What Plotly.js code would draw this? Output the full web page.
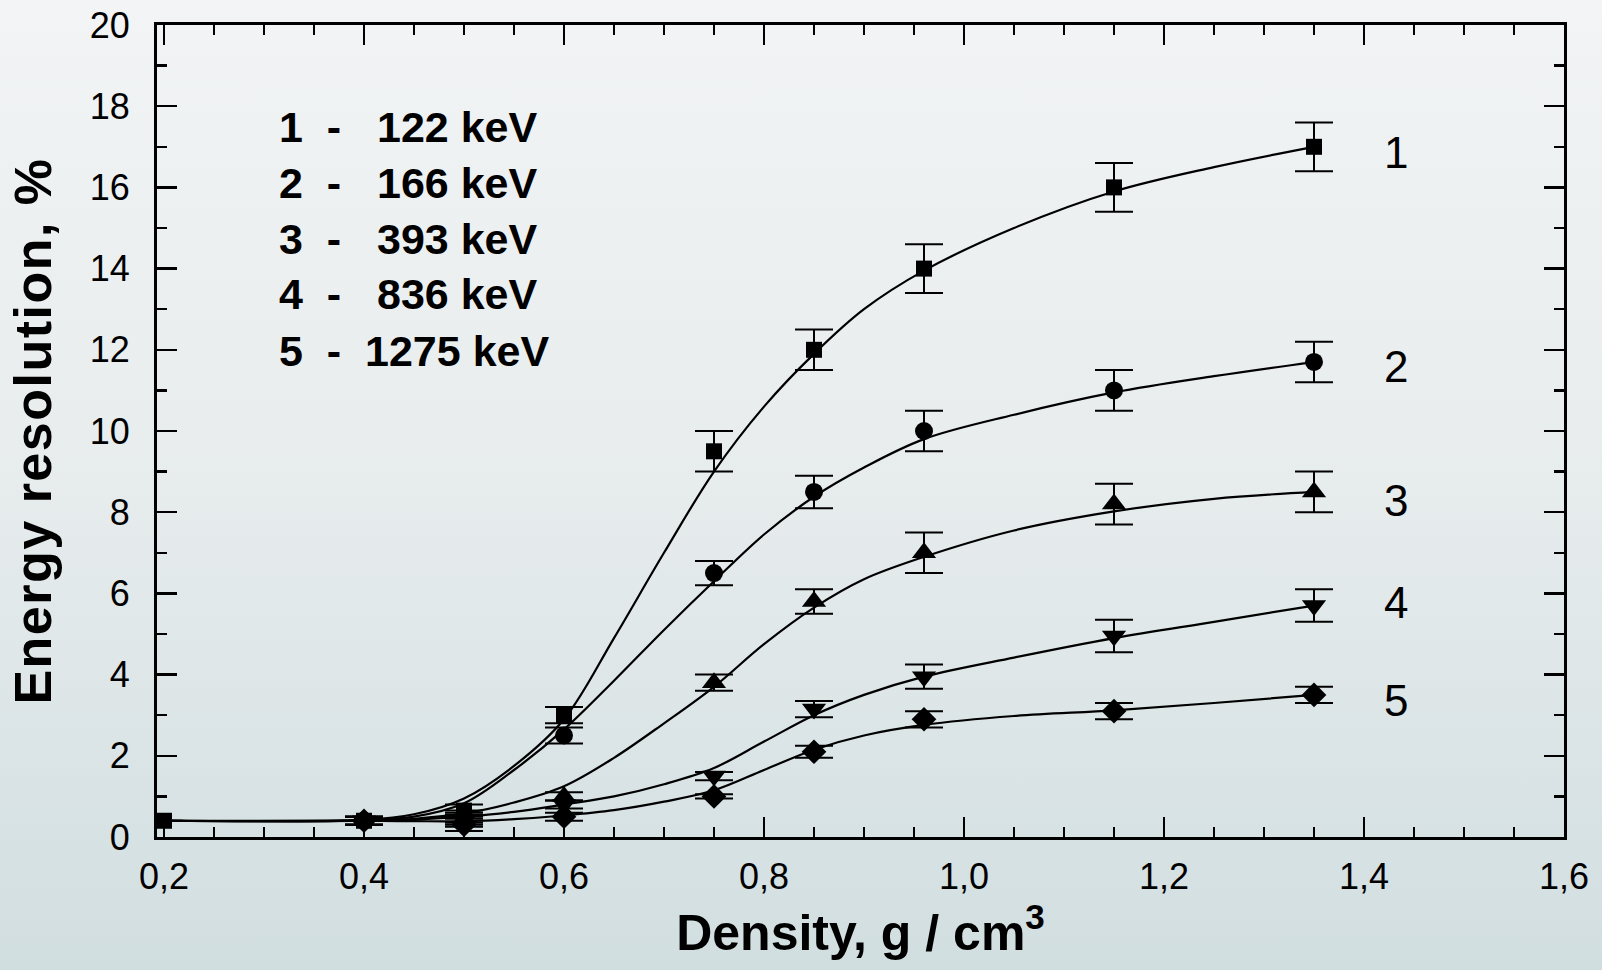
<!DOCTYPE html>
<html><head><meta charset="utf-8">
<script src="https://cdn.plot.ly/plotly-3.0.1.min.js"></script>
<style>
html,body{margin:0;padding:0;width:1602px;height:970px;overflow:hidden;
background:linear-gradient(to bottom,#f2f4f5 0%,#e7eced 50%,#d1dee0 100%);}
#chart{width:1602px;height:970px;}
.ytitle{letter-spacing:1.5px;}
</style></head><body><div id="chart"></div>
<script>
// Measured points
const x1 = [0.2, 0.4, 0.5, 0.6, 0.75, 0.85, 0.96, 1.15, 1.35];
const y1 = [0.4, 0.4, 0.65, 3.0, 9.5, 12.0, 14.0, 16.0, 17.0];
const e1 = [0, 0.1, 0.15, 0.2, 0.5, 0.5, 0.6, 0.6, 0.6];

const xs = [0.4, 0.5, 0.6, 0.75, 0.85, 0.96, 1.15, 1.35];
const y2 = [0.4, 0.5, 2.5, 6.5, 8.5, 10.0, 11.0, 11.7];
const e2 = [0.1, 0.15, 0.2, 0.3, 0.4, 0.5, 0.5, 0.5];
const y3 = [0.4, 0.45, 1.0, 3.8, 5.8, 7.0, 8.2, 8.5];
const e3 = [0.1, 0.15, 0.1, 0.2, 0.3, 0.5, 0.5, 0.5];
const y4 = [0.4, 0.4, 0.8, 1.5, 3.15, 3.95, 4.95, 5.7];
const e4 = [0.1, 0.15, 0.1, 0.1, 0.2, 0.3, 0.4, 0.4];
const y5 = [0.4, 0.3, 0.5, 1.0, 2.1, 2.9, 3.1, 3.5];
const e5 = [0.1, 0.15, 0.1, 0.05, 0.15, 0.2, 0.2, 0.2];

// Fitted curves
const fitX = [0.2, 0.4, 0.45, 0.5, 0.55, 0.6, 0.65, 0.7, 0.75, 0.8, 0.85, 0.9, 0.96, 1.05, 1.15, 1.25, 1.35];
const fit1 = [0.4, 0.42, 0.56, 0.95, 1.75, 2.9, 4.9, 7.0, 9.0, 10.6, 11.9, 13.0, 13.95, 15.0, 15.9, 16.5, 17.0];
const fit2 = [0.4, 0.42, 0.5, 0.83, 1.65, 2.65, 3.85, 5.1, 6.3, 7.45, 8.38, 9.1, 9.8, 10.4, 10.95, 11.35, 11.7];
const fit3 = [0.4, 0.4, 0.45, 0.58, 0.85, 1.25, 1.95, 2.8, 3.7, 4.75, 5.65, 6.35, 6.9, 7.55, 8.02, 8.33, 8.5];
const fit4 = [0.4, 0.4, 0.43, 0.5, 0.62, 0.8, 1.0, 1.3, 1.7, 2.35, 3.0, 3.5, 3.95, 4.42, 4.9, 5.3, 5.7];
const fit5 = [0.4, 0.4, 0.39, 0.39, 0.44, 0.53, 0.66, 0.87, 1.15, 1.65, 2.15, 2.5, 2.76, 2.98, 3.12, 3.3, 3.5];

const legendLines = ["1\u00a0\u00a0-\u00a0\u00a0\u00a0122 keV", "2\u00a0\u00a0-\u00a0\u00a0\u00a0166 keV",
  "3\u00a0\u00a0-\u00a0\u00a0\u00a0393 keV", "4\u00a0\u00a0-\u00a0\u00a0\u00a0836 keV", "5\u00a0\u00a0-\u00a0\u00a01275 keV"];
const curveLabels = ["1", "2", "3", "4", "5"];
const xTicks = [0.2, 0.4, 0.6, 0.8, 1.0, 1.2, 1.4, 1.6];

const FONT = "'Liberation Sans', Arial, sans-serif";

function pts(x, y, e, sym, size) {
  return {x: x, y: y, type: 'scatter', mode: 'markers', showlegend: false,
    marker: {symbol: sym, size: size, color: '#000'},
    error_y: {type: 'data', array: e, visible: true, color: '#000', thickness: 2, width: 19}};
}
function fit(y) {
  return {x: fitX, y: y, type: 'scatter', mode: 'lines', showlegend: false,
    line: {color: '#000', width: 2.2, shape: 'spline', smoothing: 1}, hoverinfo: 'skip'};
}

const data = [
  fit(fit1), fit(fit2), fit(fit3), fit(fit4), fit(fit5),
  pts(x1, y1, e1, 'square', 16),
  pts(xs, y2, e2, 'circle', 18),
  pts(xs, y3, e3, 'triangle-up', 21),
  pts(xs, y4, e4, 'triangle-down', 21),
  pts(xs, y5, e5, 'diamond', 19)
];

const legY = [17.49, 16.11, 14.73, 13.37, 11.97];
const labY = [16.85, 11.6, 8.28, 5.78, 3.35];
const annotations = [];
legendLines.forEach((t, i) => annotations.push({
  x: 0.313, y: legY[i], xref: 'x', yref: 'y', text: '<b>' + t + '</b>', showarrow: false,
  xanchor: 'left', yanchor: 'middle', font: {family: FONT, size: 43, color: '#000'}
}));
curveLabels.forEach((t, i) => annotations.push({
  x: 1.432, y: labY[i], xref: 'x', yref: 'y', text: t, showarrow: false,
  xanchor: 'center', yanchor: 'middle', font: {family: FONT, size: 44, color: '#000'}
}));

const axisCommon = {
  showline: true, linewidth: 3, linecolor: '#000', mirror: 'ticks',
  ticks: 'inside', ticklen: 20, tickwidth: 2.5, tickcolor: '#000',
  showgrid: false, zeroline: false,
  tickfont: {family: FONT, size: 36, color: '#000'}
};

const layout = {
  width: 1602, height: 970,
  paper_bgcolor: 'rgba(0,0,0,0)', plot_bgcolor: 'rgba(0,0,0,0)',
  margin: {l: 157, r: 38, t: 25, b: 133},
  separators: ',.',
  font: {family: FONT, color: '#000'},
  xaxis: Object.assign({}, axisCommon, {
    range: [0.193, 1.6], tickvals: xTicks, tickformat: '.1f',
    ticklabelstandoff: 6,
    minor: {ticks: 'inside', ticklen: 10, tickwidth: 2.5, tickcolor: '#000', dtick: 0.05, tick0: 0.2, showgrid: false},
    title: {text: '<b>Density, g / cm<sup>3</sup></b>', font: {family: FONT, size: 50, color: '#000'}, standoff: 18}
  }),
  yaxis: Object.assign({}, axisCommon, {
    range: [0, 20], dtick: 2, tick0: 0,
    ticklabelstandoff: 17,
    minor: {ticks: 'inside', ticklen: 10, tickwidth: 2.5, tickcolor: '#000', dtick: 1, tick0: 0, showgrid: false},
    title: {text: '<b>Energy resolution, %</b>', font: {family: FONT, size: 52, color: '#000'}, standoff: 22}
  }),
  annotations: annotations
};

Plotly.newPlot('chart', data, layout, {displayModeBar: false, staticPlot: true});
</script></body></html>
